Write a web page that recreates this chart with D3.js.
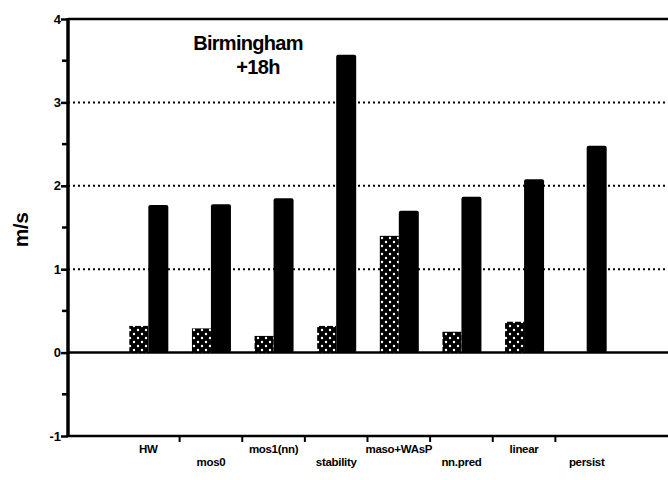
<!DOCTYPE html>
<html><head><meta charset="utf-8">
<script src="https://cdn.jsdelivr.net/npm/d3@7"></script>
<style>body{margin:0;background:#fff}svg{display:block}text{font-family:"Liberation Sans",Arial,sans-serif;font-weight:bold;fill:#000}</style>
</head><body>
<script>
const categories = ["HW","mos0","mos1(nn)","stability","maso+WAsP","nn.pred","linear","persist"];
const stippleValues = [0.32,0.29,0.20,0.32,1.40,0.25,0.37,0.0];
const blackValues = [1.77,1.78,1.85,3.57,1.70,1.87,2.08,2.48];
const yTicks = [-1,0,1,2,3,4];
const gridValues = [1,2,3];
const titleLines = ["Birmingham","+18h"];
const yLabel = "m/s";

const W=668,H=480;
const svg=d3.select("body").append("svg").attr("width",W).attr("height",H);
const defs=svg.append("defs");
const pat=defs.append("pattern").attr("id","stip").attr("patternUnits","userSpaceOnUse").attr("width",8).attr("height",8);
pat.append("rect").attr("width",8).attr("height",8).attr("fill","#000");
pat.append("circle").attr("cx",2).attr("cy",2).attr("r",1.2).attr("fill","#fff");
pat.append("circle").attr("cx",6).attr("cy",6).attr("r",1.2).attr("fill","#fff");

const axisX=68, rightX=668;
const y=d3.scaleLinear().domain([-1,4]).range([436,19]);
const x=d3.scaleBand().domain(categories).range([117,618]);
const bw=19;

// gridlines
svg.selectAll(".grid").data(gridValues).join("line")
 .attr("x1",axisX).attr("x2",rightX).attr("y1",d=>y(d)).attr("y2",d=>y(d))
 .attr("stroke","#000").attr("stroke-width",2).attr("stroke-dasharray","2,3");
[4,0,-1].forEach(v=>{
 svg.append("line").attr("x1",axisX).attr("x2",rightX).attr("y1",y(v)).attr("y2",y(v))
  .attr("stroke","#000").attr("stroke-width",2.5);
});

// bars
const cx=d=>x(d)+x.bandwidth()/2;
svg.selectAll(".sb").data(categories).join("rect")
 .attr("x",d=>cx(d)-bw).attr("width",bw)
 .attr("y",(d,i)=>y(stippleValues[i])).attr("height",(d,i)=>y(0)-y(stippleValues[i]))
 .attr("fill","url(#stip)");
svg.selectAll(".bb").data(categories).join("rect")
 .attr("x",d=>cx(d)).attr("width",bw+1)
 .attr("y",(d,i)=>y(blackValues[i])).attr("height",(d,i)=>y(0)-y(blackValues[i]))
 .attr("rx",2).attr("fill","#000");

// y axis
const yAxis=d3.axisLeft(y).tickValues(yTicks).tickSize(7).tickSizeOuter(0).tickFormat(d=>String(d));
const ga=svg.append("g").attr("transform",`translate(${axisX},0)`).call(yAxis);
ga.select(".domain").remove();
svg.append("line").attr("x1",axisX).attr("x2",axisX).attr("y1",y(4)-1).attr("y2",y(-1)+1).attr("stroke","#000").attr("stroke-width",3.5);
ga.selectAll(".tick line").attr("stroke","#000").attr("stroke-width",2.5);
ga.selectAll(".tick text").attr("font-size",13).attr("font-weight","bold").attr("x",-7).attr("font-family","Liberation Sans, Arial");
const minor=d3.range(-0.5,4,1);
svg.selectAll(".mt").data(minor).join("line").attr("x1",axisX-6).attr("x2",axisX).attr("y1",d=>y(d)).attr("y2",d=>y(d)).attr("stroke","#000").attr("stroke-width",2.5);

// x axis ticks between categories
svg.selectAll(".xt").data(categories.slice(0,-1)).join("line")
 .attr("x1",d=>x(d)+x.step()).attr("x2",d=>x(d)+x.step())
 .attr("y1",y(-1)).attr("y2",y(-1)+6).attr("stroke","#000").attr("stroke-width",2);

// category labels, staggered
svg.selectAll(".cl").data(categories).join("text")
 .attr("x",d=>cx(d)).attr("y",(d,i)=>y(-1)+(i%2===0?17:30))
 .attr("text-anchor","middle").attr("font-size",11.5).attr("letter-spacing",-0.3).text(d=>d);

// title
svg.selectAll(".tt").data(titleLines).join("text")
 .attr("x",(d,i)=>i===0?248:258).attr("y",(d,i)=>i===0?50:74)
 .attr("text-anchor","middle").attr("font-size",20).attr("letter-spacing",-0.7).text(d=>d);

// y label
svg.append("text").attr("transform","translate(28,230) rotate(-90)").attr("text-anchor","middle")
 .attr("font-size",21).attr("letter-spacing",-0.5).text(yLabel);
</script>
</body></html>
